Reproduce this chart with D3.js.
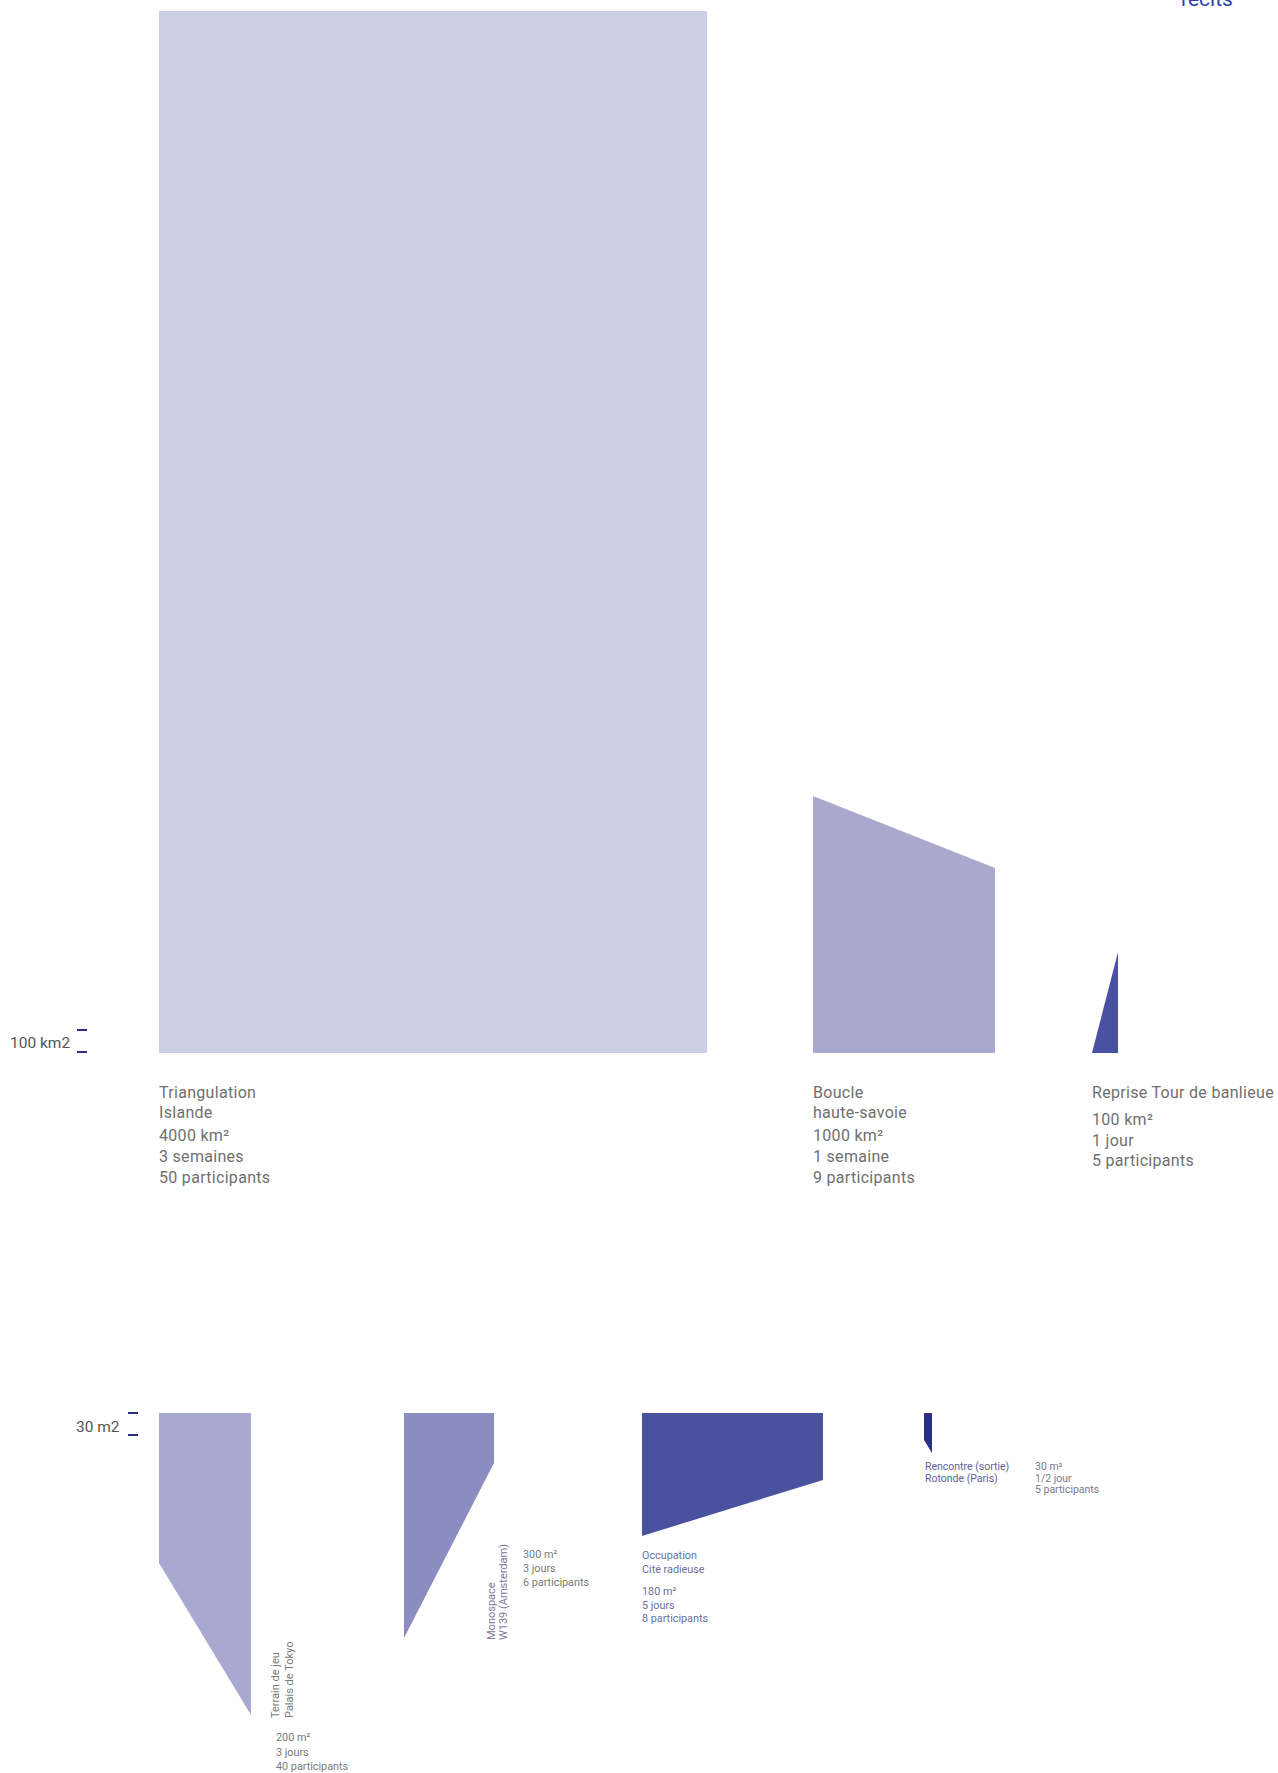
<!DOCTYPE html>
<html>
<head>
<meta charset="utf-8">
<script src="https://cdn.jsdelivr.net/npm/d3@7"></script>
<style>
body{margin:0;background:#fff;}
svg{display:block;}
text{font-family:Roboto,"Liberation Sans",sans-serif;}
</style>
</head>
<body>
<svg id="graf" width="1278" height="1773"></svg>
<script>
// rangee du haut : grands territoires (km2)
var nomsHaut = [["Triangulation","Islande"],["Boucle","haute-savoie"],["Reprise Tour de banlieue"]];
var surfHaut = ["4000 km²","1000 km²","100 km²"];
var dureeHaut = ["3 semaines","1 semaine","1 jour"];
var partHaut = ["50 participants","9 participants","5 participants"];
// largeur, hauteur gauche, hauteur droite (unites de l'echelle)
var largHaut = [54.8, 18.2, 2.6];
var hgHaut = [104.2, 25.7, 0];
var hdHaut = [104.2, 18.5, 10.1];
var coulHaut = ["#cdd0e4","#a9a9cd","#4b51a2"];

// rangee du bas : petits lieux (m2)
var nomsBas = [["Terrain de jeu","Palais de Tokyo"],["Monospace","W139 (Amsterdam)"],["Occupation","Cité radieuse"],["Rencontre (sortie)","Rotonde (Paris)"]];
var surfBas = ["200 m²","300 m²","180 m²","30 m²"];
var dureeBas = ["3 jours","3 jours","5 jours","1/2 jour"];
var partBas = ["40 participants","6 participants","8 participants","5 participants"];
var largBas = [9.2, 9.0, 18.1, 0.8];
var hgBas = [15.0, 22.5, 12.3, 2.7];
var hdBas = [30.2, 5.0, 6.7, 4.0];
var coulBas = ["#a9a8d0","#8b8cc0","#4a52a0","#2b3087"];

var svg = d3.select("#graf");

// echelle commune : 1 unite = 10 px
var s = d3.scaleLinear().domain([0,1]).range([0,10]);

var forme = d3.line()
    .x(function(d){ return d[0]; })
    .y(function(d){ return d[1]; })
    .curve(d3.curveLinearClosed);

// mise en page
var baseHaut = 1053, hautBas = 1413, gauche = 159;
var ecartsHaut = [106, 97];
var ecartsBas = [153, 148, 101];

function positions(larg, ecarts){
    var xs = [], x = gauche;
    for(var i=0;i<larg.length;i++){
        xs.push(x);
        x += s(larg[i]) + (ecarts[i]||0);
    }
    return xs;
}
var xHaut = positions(largHaut, ecartsHaut);
var xBas = positions(largBas, ecartsBas);

// formes du haut (posees sur la ligne de base)
svg.append("g").selectAll("path")
    .data(d3.range(largHaut.length))
    .join("path")
    .attr("fill", function(i){ return coulHaut[i]; })
    .attr("d", function(i){
        var x0 = xHaut[i], x1 = x0 + s(largHaut[i]);
        return forme([[x0,baseHaut],[x0,baseHaut - s(hgHaut[i])],[x1,baseHaut - s(hdHaut[i])],[x1,baseHaut]]);
    });

// formes du bas (pendues a la ligne du haut)
svg.append("g").selectAll("path")
    .data(d3.range(largBas.length))
    .join("path")
    .attr("fill", function(i){ return coulBas[i]; })
    .attr("d", function(i){
        var x0 = xBas[i], x1 = x0 + s(largBas[i]);
        return forme([[x0,hautBas],[x1,hautBas],[x1,hautBas + s(hdBas[i])],[x0,hautBas + s(hgBas[i])]]);
    });

function lignes(g, x, y0, pas, textes, taille, coul, esp){
    textes.forEach(function(t,k){
        g.append("text")
            .attr("x", x)
            .attr("y", y0 + k*pas)
            .attr("font-size", taille)
            .attr("letter-spacing", esp||0)
            .attr("fill", coul)
            .text(t);
    });
}

// legendes du haut
var gl = svg.append("g");
for(var i=0;i<nomsHaut.length;i++){
    var x = xHaut[i];
    lignes(gl, x, 1098, 20, nomsHaut[i], 16, "#6f6f6f", 0.3);
    var y0 = 1098 + nomsHaut[i].length*20 + 3;
    var pas = 21;
    if(nomsHaut[i].length==1){ y0 = 1125; pas = 20.5; }
    lignes(gl, x, y0, pas, [surfHaut[i], dureeHaut[i], partHaut[i]], 16, "#6f6f6f", 0.3);
}

// legendes du bas, chacune a sa facon
var gb = svg.append("g");
// terrain de jeu : nom vertical a droite de la pointe
var xt = xBas[0] + s(largBas[0]);
nomsBas[0].forEach(function(t,k){
    gb.append("text")
        .attr("transform", "translate(" + (xt + 28 + k*14) + ",1718) rotate(-90)")
        .attr("font-size", 11).attr("fill", "#7a7a7a").text(t);
});
lignes(gb, xt + 25, 1741, 14.5, [surfBas[0], dureeBas[0], partBas[0]], 10.8, "#7a7a7a");

// monospace
var xm = xBas[1] + s(largBas[1]);
nomsBas[1].forEach(function(t,k){
    gb.append("text")
        .attr("transform", "translate(" + (xm + 1 + k*12) + ",1640) rotate(-90)")
        .attr("font-size", 11).attr("fill", "#7a7a9a").text(t);
});
lignes(gb, xm + 29, 1558, 14, [surfBas[1], dureeBas[1], partBas[1]], 10.8, "#7a7a7a");

// occupation
var xo = xBas[2];
lignes(gb, xo, 1559, 13.5, nomsBas[2], 10.8, "#6a6f9e");
lignes(gb, xo, 1595, 13.5, [surfBas[2], dureeBas[2], partBas[2]], 10.8, "#6a6f9e");

// rencontre
var xr = xBas[3];
lignes(gb, xr + 1, 1470, 11.5, nomsBas[3], 10.5, "#5a619c");
lignes(gb, xr + 111, 1470, 11.5, [surfBas[3], dureeBas[3], partBas[3]], 10.5, "#7a7a8a");

// echelles a gauche
function echelle(xTexte, yTexte, texte, xTrait, yHaut, yBas){
    svg.append("text")
        .attr("x", xTexte).attr("y", yTexte)
        .attr("font-size", 15.5).attr("fill", "#555")
        .text(texte);
    [yHaut, yBas].forEach(function(y){
        svg.append("line")
            .attr("x1", xTrait).attr("x2", xTrait + 10)
            .attr("y1", y).attr("y2", y)
            .attr("stroke", "#2b3087").attr("stroke-width", 2);
    });
}
echelle(10, 1048, "100 km2", 77, 1030, 1052);
echelle(76, 1432, "30 m2", 128, 1413, 1435);

// titre coupe en haut a droite (coupe aussi dans l'original)
svg.append("text")
    .attr("x", 1181).attr("y", 6)
    .attr("font-size", 21).attr("fill", "#2f3fa8")
    .attr("font-family", "'DejaVu Sans',sans-serif")
    .text("récits");
</script>
</body>
</html>
